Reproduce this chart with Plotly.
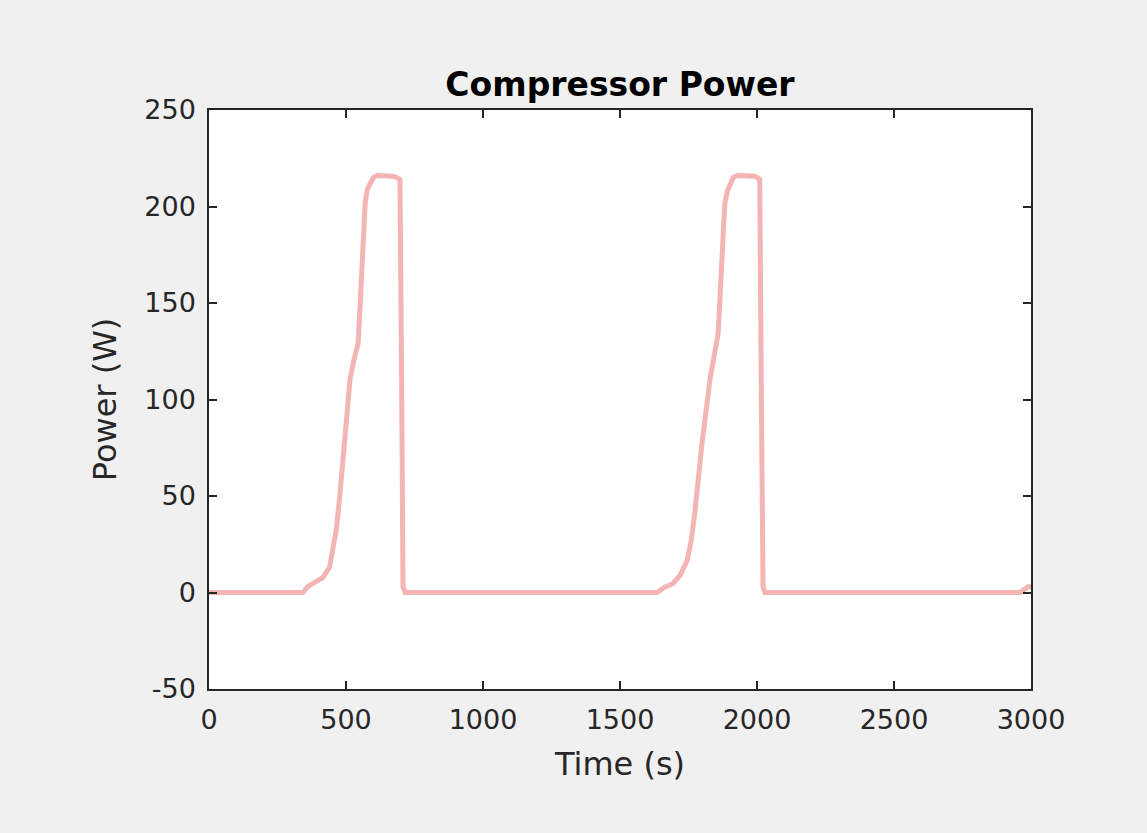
import plotly.graph_objects as go

# Time (s) and compressor power (W)
time_s = [0, 343, 360, 385, 416, 440, 453, 465, 478, 497, 515, 530, 544, 552, 558, 564, 570, 578, 588, 600, 613,
          672, 690, 697, 703, 708, 716,
          1635, 1660, 1694, 1720, 1745, 1760, 1774, 1799, 1829, 1858, 1866, 1872, 1878, 1883, 1892, 1902, 1913, 1927,
          1993, 2004, 2010, 2016, 2022, 2029,
          2960, 2975, 2990, 3000]
power_w = [0, 0, 3, 5, 7.8, 13, 21.8, 33, 51, 86, 111, 121, 129, 150, 172, 190, 202, 209, 212, 215, 216,
           215.7, 214.7, 214, 110, 3, 0,
           0, 2.5, 4.7, 9, 16.6, 27, 42.5, 77, 111, 134, 152, 172, 190, 202, 208, 212, 215, 216,
           215.7, 214.7, 214, 100, 3, 0,
           0, 1.5, 3, 3]

x_ticks = [0, 500, 1000, 1500, 2000, 2500, 3000]
y_ticks = [-50, 0, 50, 100, 150, 200, 250]

FONT = "DejaVu Sans, Liberation Sans, Arial, sans-serif"

fig = go.Figure()
fig.add_trace(go.Scatter(x=time_s, y=power_w, mode="lines",
                         line=dict(color="#f4b4b4", width=5),
                         showlegend=False))

axis_common = dict(showline=True, linecolor="#262626", linewidth=1.5, mirror="ticks",
                   ticks="inside", ticklen=8, tickcolor="#262626", tickwidth=1.5,
                   showgrid=False, zeroline=False,
                   tickfont=dict(family=FONT, size=27, color="#262626"))

fig.update_layout(
    width=1147, height=833,
    margin=dict(l=209, r=116, t=110, b=144),
    paper_bgcolor="#f0f0f0", plot_bgcolor="white",
    title=dict(text="<b>Compressor Power</b>", x=0.5, xanchor="center", xref="paper",
               y=1 - 84 / 833, yanchor="middle",
               font=dict(family=FONT, size=33, color="black")),
    xaxis=dict(range=[0, 3000], tickvals=x_ticks, ticktext=[str(v) for v in x_ticks],
               ticklabelstandoff=6,
               title=dict(text="Time (s)", font=dict(family=FONT, size=32, color="#262626"), standoff=18),
               **axis_common),
    yaxis=dict(range=[-50, 250], tickvals=y_ticks, ticktext=[str(v) for v in y_ticks],
               ticklabelstandoff=6,
               title=dict(text="Power (W)", font=dict(family=FONT, size=32, color="#262626"), standoff=18),
               **axis_common),
)

fig.write_html("out.html")
